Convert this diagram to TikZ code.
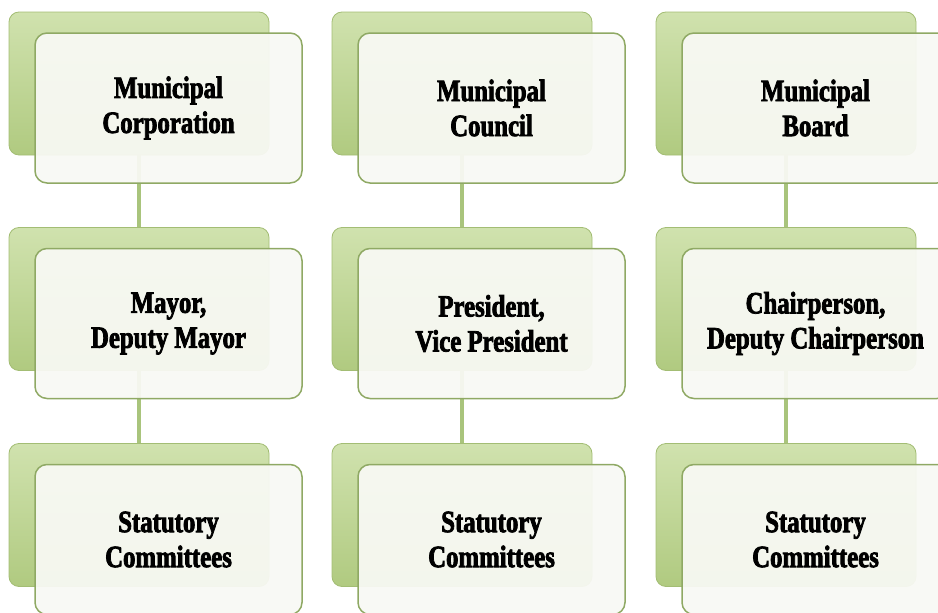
\documentclass[tikz,border=0pt]{standalone}
\usepackage{fontspec}
\setmainfont{Liberation Serif}
\newfontfamily\boxfont{Liberation Serif}[FakeStretch=0.8,BoldFeatures={FakeBold=2.5}]
\usetikzlibrary{positioning}

\definecolor{backtop}{HTML}{D0E2AE}
\definecolor{backbot}{HTML}{B0CA80}
\definecolor{backline}{HTML}{A3BD74}
\definecolor{frontline}{HTML}{8FA964}
\definecolor{frontfill}{HTML}{F8F9F4}
\definecolor{linkgreen}{HTML}{A9C47C}

\tikzset{
  backbox/.style={rectangle,rounded corners=10pt,minimum width=260pt,minimum height=143pt,
    top color=backtop,bottom color=backbot,draw=backline,line width=.8pt},
  frontbox/.style={rectangle,rounded corners=12pt,minimum width=267pt,minimum height=150pt,
    fill=frontfill,fill opacity=.94,text opacity=1,draw=frontline,line width=1.5pt,
    align=center,font=\boxfont\fontsize{31}{35}\selectfont\bfseries},
  link/.style={draw=linkgreen,line width=4.5pt}
}

\begin{document}
\begin{tikzpicture}[x=1pt,y=-1pt]
  \useasboundingbox (0,0) rectangle (938,613);

  % green boxes behind
  \node[backbox] (c1) at (139,83.5) {};
  \node[backbox] (c2) at (139,299) {};
  \node[backbox] (c3) at (139,515) {};
  \node[backbox] (k1) at (462,83.5) {};
  \node[backbox] (k2) at (462,299) {};
  \node[backbox] (k3) at (462,515) {};
  \node[backbox] (b1) at (786,83.5) {};
  \node[backbox] (b2) at (786,299) {};
  \node[backbox] (b3) at (786,515) {};

  \foreach \from/\to in {c1/c2,c2/c3,k1/k2,k2/k3,b1/b2,b2/b3}
    \draw[link] (\from) -- (\to);

  % white boxes with the text
  \node[frontbox] (tc1) at (168.5,108) {Municipal\\Corporation};
  \node[frontbox] (tc2) at (168.5,323.5) {Mayor,\\Deputy Mayor};
  \node[frontbox] (tc3) at (168.5,539.5) {Statutory\\Committees};
  \node[frontbox] (tk1) at (491.5,108) {Municipal\\Council};
  \node[frontbox] (tk2) at (491.5,323.5) {President,\\Vice President};
  \node[frontbox] (tk3) at (491.5,539.5) {Statutory\\Committees};
  \node[frontbox] (tb1) at (815.5,108) {Municipal\\Board};
  \node[frontbox] (tb2) at (815.5,323.5) {Chairperson,\\Deputy Chairperson};
  \node[frontbox] (tb3) at (815.5,539.5) {Statutory\\Committees};
\end{tikzpicture}
\end{document}
